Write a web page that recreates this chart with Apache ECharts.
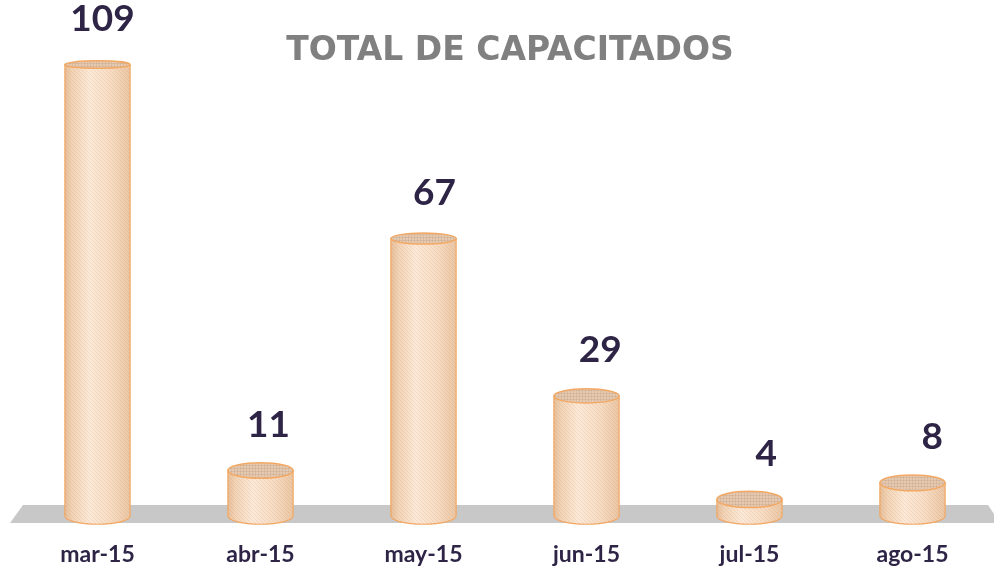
<!DOCTYPE html>
<html>
<head>
<meta charset="utf-8">
<script src="https://cdn.jsdelivr.net/npm/echarts@6/dist/echarts.min.js"></script>
<style>
html, body { margin: 0; padding: 0; background: #fff; }
#chart { width: 994px; height: 569px; }
</style>
</head>
<body>
<div id="chart"></div>
<script>
// datos
var categories = ['mar-15', 'abr-15', 'may-15', 'jun-15', 'jul-15', 'ago-15'];
var values = [109, 11, 67, 29, 4, 8];

var orange = '#f3a863';
var labelColor = '#2e2546';

// texturas (rayado del cilindro y tapa)
function makePattern(size, draw) {
    var c = document.createElement('canvas');
    c.width = c.height = size;
    draw(c.getContext('2d'), size);
    return c;
}
var sidePattern = makePattern(4, function (ctx, s) {
    ctx.strokeStyle = 'rgba(175,125,85,0.13)';
    ctx.lineWidth = 1;
    ctx.beginPath();
    ctx.moveTo(0, 0); ctx.lineTo(s, s);
    ctx.stroke();
});
var topPattern = makePattern(3, function (ctx, s) {
    ctx.fillStyle = 'rgba(150,105,70,0.14)';
    ctx.fillRect(0, 0, s, 1);
    ctx.fillRect(0, 0, 1, s);
});

function renderFloor(params, api) {
    var cs = params.coordSys;
    var y0 = api.coord([0, 0])[1];
    var x1 = cs.x, x2 = cs.x + cs.width;
    return {
        type: 'polygon',
        shape: { points: [[x1 + 7, y0 - 11], [x2 - 6, y0 - 11], [x2 + 6, y0 + 7], [x1 - 6, y0 + 7]] },
        style: { fill: '#c8c8c8' }
    };
}

function renderCylinder(params, api) {
    var i = api.value(0), v = api.value(1);
    var top = api.coord([i, v]), base = api.coord([i, 0]);
    var w = api.size([1, 0])[0] * 0.4;
    var rx = w / 2, cx = top[0];
    // la tapa se ve más plana cuanto más alta (perspectiva)
    var ryTop = 3.5 + 0.01 * (top[1] - 40);
    var ryBot = 3.5 + 0.01 * (base[1] - 40);
    var L = cx - rx, R = cx + rx;
    var body = 'M' + L + ' ' + top[1] + 'L' + L + ' ' + base[1] +
        'A' + rx + ' ' + ryBot + ' 0 0 0 ' + R + ' ' + base[1] +
        'L' + R + ' ' + top[1] + 'Z';
    var grad = new echarts.graphic.LinearGradient(0, 0, 1, 0, [
        { offset: 0, color: '#e5bd98' },
        { offset: 0.12, color: '#f2d3b5' },
        { offset: 0.38, color: '#fce9d7' },
        { offset: 0.7, color: '#f7dcc3' },
        { offset: 1, color: '#eac5a2' }
    ]);
    return {
        type: 'group',
        children: [
            { type: 'path', shape: { pathData: body }, style: { fill: grad, stroke: orange, lineWidth: 1.2 } },
            { type: 'path', shape: { pathData: body }, style: { fill: { image: sidePattern, repeat: 'repeat' } } },
            { type: 'ellipse', shape: { cx: cx, cy: top[1], rx: rx, ry: ryTop }, style: { fill: '#e4c9b0', stroke: orange, lineWidth: 1.5 } },
            { type: 'ellipse', shape: { cx: cx, cy: top[1], rx: rx - 1, ry: ryTop - 1 }, style: { fill: { image: topPattern, repeat: 'repeat' } } },
            {
                type: 'text',
                style: {
                    text: String(v),
                    x: cx + 5 + (cx - 97) * 0.018,
                    y: top[1] - 27,
                    textAlign: 'center',
                    textVerticalAlign: 'bottom',
                    font: 'bold 37px Lato',
                    fill: labelColor
                }
            }
        ]
    };
}

var chart = echarts.init(document.getElementById('chart'));
var option = {
    backgroundColor: '#fff',
    title: {
        text: 'TOTAL DE CAPACITADOS',
        left: 505,
        top: 30,
        textAlign: 'center',
        textStyle: {
            fontFamily: 'DejaVu Sans',
            fontWeight: 'bold',
            fontSize: 33,
            color: '#808080'
        }
    },
    grid: { left: 16, right: 0, top: 19, bottom: 53 },
    xAxis: {
        type: 'category',
        data: categories,
        axisLine: { show: false },
        axisTick: { show: false },
        splitLine: { show: false },
        axisLabel: {
            margin: 27,
            fontFamily: 'Lato',
            fontWeight: 'bold',
            fontSize: 23,
            color: labelColor
        }
    },
    yAxis: { type: 'value', min: 0, max: 120, show: false },
    series: [
        {
            type: 'custom',
            name: 'piso',
            silent: true,
            z: 1,
            data: [[0, 0]],
            encode: { x: 0, y: 1 },
            renderItem: renderFloor
        },
        {
            type: 'custom',
            name: 'capacitados',
            z: 2,
            data: values.map(function (v, i) { return [i, v]; }),
            encode: { x: 0, y: 1 },
            renderItem: renderCylinder
        }
    ]
};
chart.setOption(option);
window.addEventListener('resize', function () { chart.resize(); });
</script>
</body>
</html>
